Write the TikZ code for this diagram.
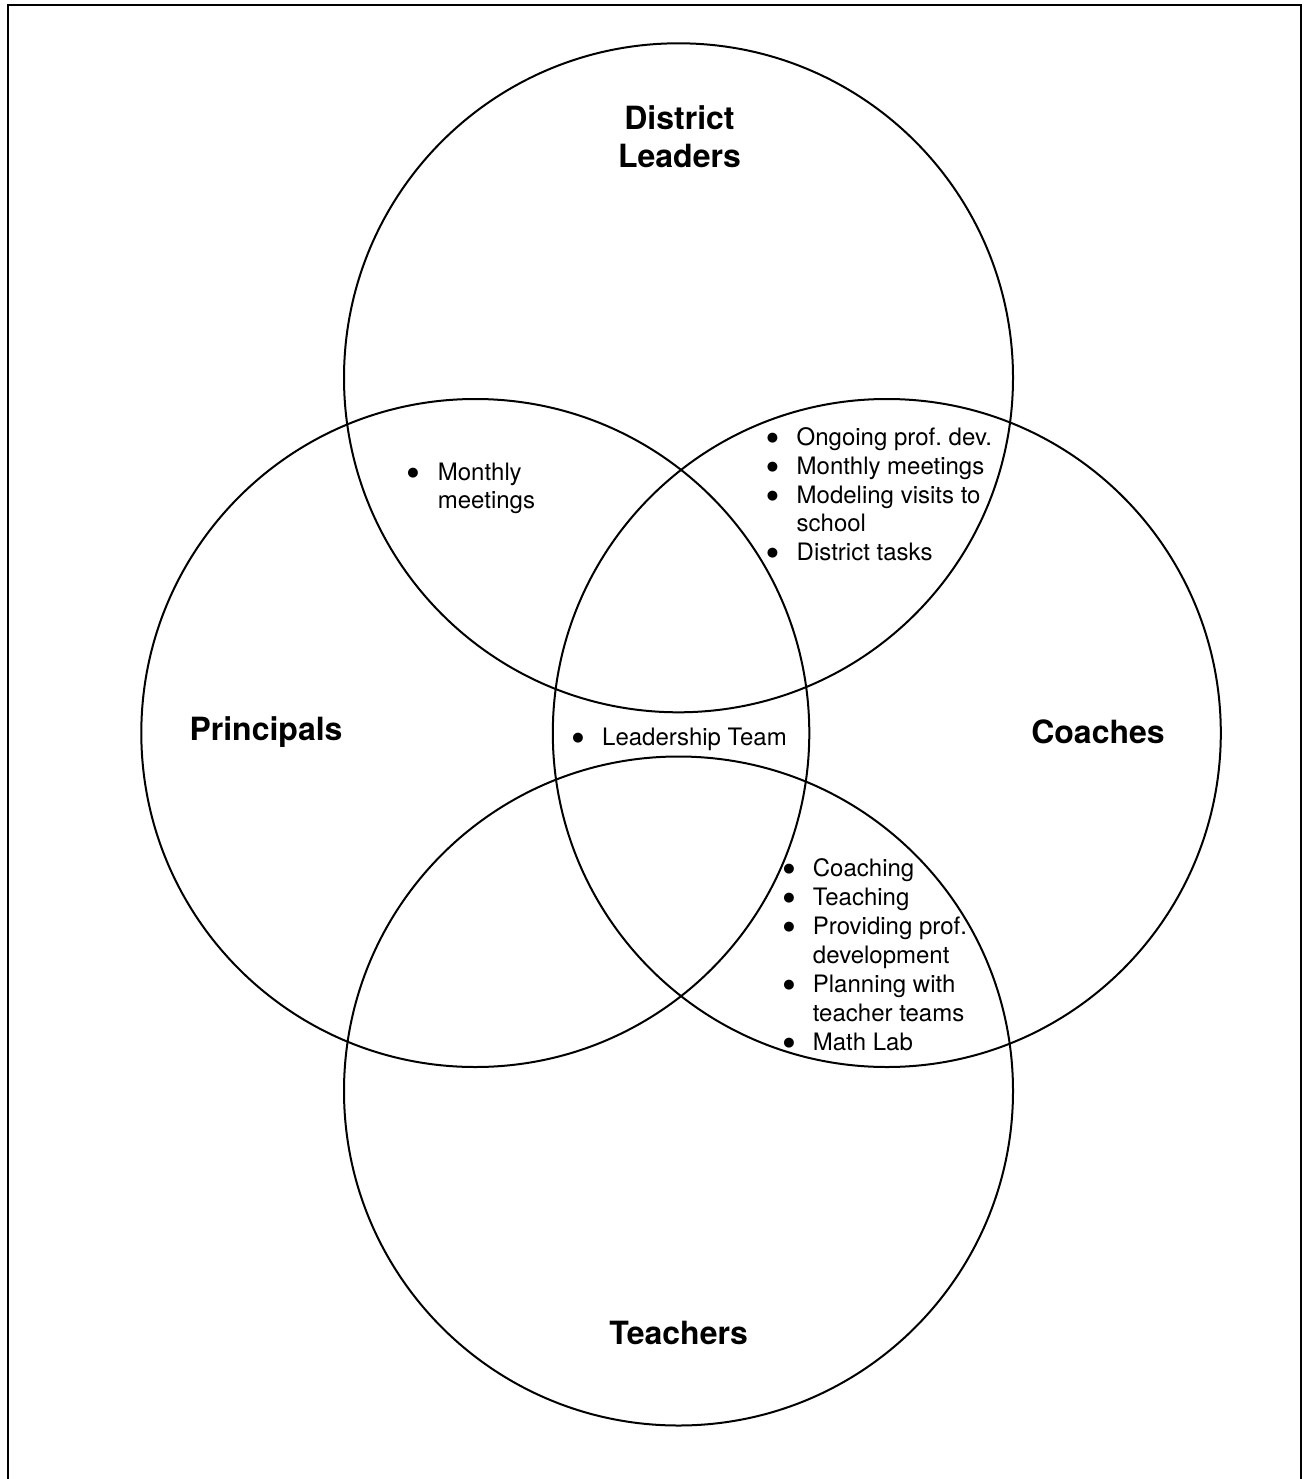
\documentclass[tikz,border=0pt]{standalone}
\usepackage{fontspec}
\setmainfont{TeX Gyre Heros}
\newfontfamily\bulfont{DejaVu Sans}
\newcommand{\bigbul}{{\bulfont\fontsize{13}{13}\selectfont\raisebox{3.8pt}{●}}}
\begin{document}
\frenchspacing
\begin{tikzpicture}[x=1pt,y=-1pt,
  ring/.style={circle,draw=black,line width=2pt,minimum size=#1,inner sep=0pt},
  title/.style={inner sep=0pt,anchor=base,font=\fontsize{32}{38}\selectfont\bfseries},
  item/.style={inner sep=0pt,anchor=base west,font=\fontsize{24}{28.7}\selectfont},
  bul/.style={inner sep=0pt,anchor=base}]
\useasboundingbox (0,0) rectangle (1304,1479);
\fill[white] (0,0) rectangle (1304,1479);
% frame
\draw[line width=2pt] (7.5,1490) -- (7.5,5) -- (1301,5) -- (1301,1490);
% circles
\node[ring=669pt] (dl) at (678.5,377.8) {};
\node[ring=668pt] (pr) at (475.3,733) {};
\node[ring=668pt] (co) at (886.8,733) {};
\node[ring=669pt] (te) at (678.5,1091) {};
% titles
\node[title] (tdl1) at (679.5,130) {District};
\node[title] (tdl2) at (679.5,167.7) {Leaders};
\node[title] (tpr) at (266,740) {Principals};
\node[title] (tco) at (1098,743.3) {Coaches};
\node[title] (tte) at (678.7,1344.3) {Teachers};
% district leaders & principals
\node[bul] (b1) at (413,480) {\bigbul};
\node[item] (m1) at (437.7,480) {Monthly};
\node[item] (m2) at (437.7,508.7) {meetings};
% district leaders & coaches
\node[bul] (b2) at (772.6,445.7) {\bigbul};
\node[item] (o1) at (796.5,445.7) {Ongoing prof. dev.};
\node[bul] (b3) at (772.6,474.4) {\bigbul};
\node[item] (o2) at (796.5,474.4) {Monthly meetings};
\node[bul] (b4) at (772.6,503.1) {\bigbul};
\node[item] (o3) at (796.5,503.1) {Modeling visits to};
\node[item] (o4) at (796.5,531.8) {school};
\node[bul] (b5) at (772.6,560.5) {\bigbul};
\node[item] (o5) at (796.5,560.5) {District tasks};
% centre
\node[bul] (b6) at (578,745) {\bigbul};
\node[item] (lt) at (602,745) {Leadership Team};
% coaches & teachers
\node[bul] (b7) at (789,876.7) {\bigbul};
\node[item] (c1) at (812.7,876.7) {Coaching};
\node[bul] (b8) at (789,905.6) {\bigbul};
\node[item] (c2) at (812.7,905.6) {Teaching};
\node[bul] (b9) at (789,934.5) {\bigbul};
\node[item] (c3) at (812.7,934.5) {Providing prof.};
\node[item] (c4) at (812.7,963.4) {development};
\node[bul] (b10) at (789,992.3) {\bigbul};
\node[item] (c5) at (812.7,992.3) {Planning with};
\node[item] (c6) at (812.7,1021.2) {teacher teams};
\node[bul] (b11) at (789,1050.1) {\bigbul};
\node[item] (c7) at (812.7,1050.1) {Math Lab};
\end{tikzpicture}
\end{document}
